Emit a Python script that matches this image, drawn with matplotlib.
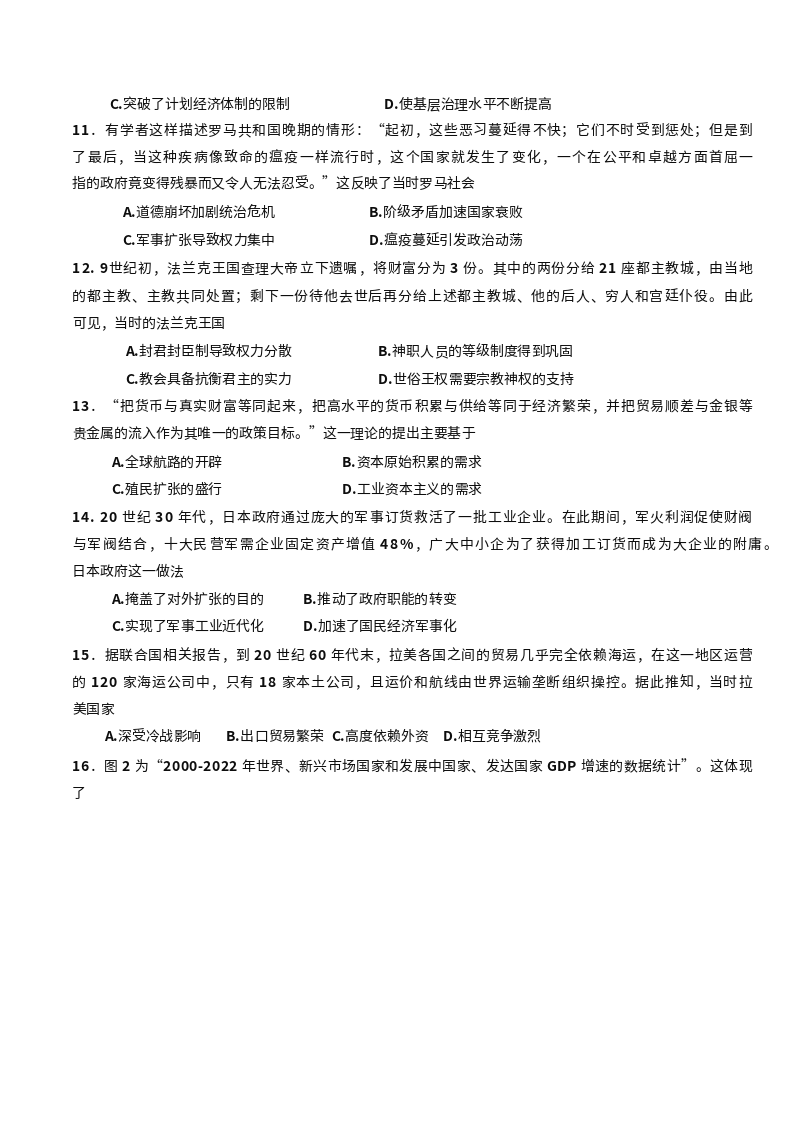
import matplotlib
matplotlib.use("Agg")
import matplotlib.pyplot as plt
from matplotlib.font_manager import FontProperties, findfont, get_font

plt.rcParams['font.family'] = ['Noto Sans CJK SC', 'DejaVu Sans']

W, H = 793, 1121

# ---- page content (text lines) ----
top_options = ["C.突破了计划经济体制的限制", "D.使基层治理水平不断提高"]

q11_lines = [
    "11．有学者这样描述罗马共和国晚期的情形：“起初，这些恶习蔓延得不快；它们不时受到惩处；但是到",
    "了最后，当这种疾病像致命的瘟疫一样流行时，这个国家就发生了变化，一个在公平和卓越方面首屈一",
    "指的政府竟变得残暴而又令人无法忍受。”这反映了当时罗马社会",
]
q11_options = ["A.道德崩坏加剧统治危机", "B.阶级矛盾加速国家衰败",
               "C.军事扩张导致权力集中", "D.瘟疫蔓延引发政治动荡"]

q12_lines = [
    "12. 9世纪初，法兰克王国查理大帝立下遗嘱，将财富分为 3 份。其中的两份分给 21 座都主教城，由当地",
    "的都主教、主教共同处置；剩下一份待他去世后再分给上述都主教城、他的后人、穷人和宫廷仆役。由此",
    "可见，当时的法兰克王国",
]
q12_options = ["A.封君封臣制导致权力分散", "B.神职人员的等级制度得到巩固",
               "C.教会具备抗衡君主的实力", "D.世俗王权需要宗教神权的支持"]

q13_lines = [
    "13．“把货币与真实财富等同起来，把高水平的货币积累与供给等同于经济繁荣，并把贸易顺差与金银等",
    "贵金属的流入作为其唯一的政策目标。”这一理论的提出主要基于",
]
q13_options = ["A.全球航路的开辟", "B.资本原始积累的需求",
               "C.殖民扩张的盛行", "D.工业资本主义的需求"]

q14_lines = [
    "14. 20 世纪 30 年代，日本政府通过庞大的军事订货救活了一批工业企业。在此期间，军火利润促使财阀",
    "与军阀结合，十大民营军需企业固定资产增值 48%，广大中小企为了获得加工订货而成为大企业的附庸。",
    "日本政府这一做法",
]
q14_options = ["A.掩盖了对外扩张的目的", "B.推动了政府职能的转变",
               "C.实现了军事工业近代化", "D.加速了国民经济军事化"]

q15_lines = [
    "15．据联合国相关报告，到 20 世纪 60 年代末，拉美各国之间的贸易几乎完全依赖海运，在这一地区运营",
    "的 120 家海运公司中，只有 18 家本土公司，且运价和航线由世界运输垄断组织操控。据此推知，当时拉",
    "美国家",
]
q15_options = ["A.深受冷战影响", "B.出口贸易繁荣", "C.高度依赖外资", "D.相互竞争激烈"]

q16_lines = [
    "16．图 2 为“2000-2022 年世界、新兴市场国家和发展中国家、发达国家 GDP 增速的数据统计”。这体现",
    "了",
]

# ---- layout ----
DPI = 100
fig = plt.figure(figsize=(W / DPI, H / DPI), dpi=DPI)
fig.patch.set_facecolor("white")
FS = 10.0
COLOR = "#0d0d0d"
LEFT = 72
RIGHT = 752
FAM = ['Noto Sans CJK SC', 'DejaVu Sans']
prop_r = FontProperties(family=FAM, size=FS)
prop_b = FontProperties(family=FAM, size=FS, weight='bold')
font_r = get_font(findfont(FontProperties(family='Noto Sans CJK SC')))
font_b = get_font(findfont(FontProperties(family='Noto Sans CJK SC', weight='bold')))
BOLD_CHARS = set("0123456789ABCDGP.%-")


def is_bold(ch):
    return ch in BOLD_CHARS


def advance(ch):
    f = font_b if is_bold(ch) else font_r
    f.set_size(FS, DPI)
    g = f.load_char(ord(ch))
    return g.linearHoriAdvance / 65536.0


def put(x, y, ch):
    fig.text(x / W, 1 - y / H, ch,
             fontproperties=prop_b if is_bold(ch) else prop_r,
             va="center", ha="left", color=COLOR)


def put_line(x, y, s, right=None):
    advs = [advance(ch) for ch in s]
    total = sum(advs)
    n = len(s)
    gap = 0.0
    if right is not None and n > 1:
        gap = (right - x - total) / (n - 1)
    cx = x
    for ch, a in zip(s, advs):
        if ch != " ":
            put(cx, y, ch)
        cx += a + gap


def paragraph(lines, ys, rights=None):
    for i, (s, y) in enumerate(zip(lines, ys)):
        if i == len(lines) - 1:
            put_line(LEFT, y, s)
        else:
            r = rights[i] if rights else RIGHT
            put_line(LEFT, y, s, r)


def opt_rows(opts, ys, xs):
    for i, s in enumerate(opts):
        row = i // 2 if len(xs) == 2 else 0
        col = i % 2 if len(xs) == 2 else i
        put_line(xs[col], ys[row], s)


opt_rows(top_options, [105], [109, 384])

paragraph(q11_lines, [131, 158, 184])
opt_rows(q11_options, [213, 241], [122, 369])

paragraph(q12_lines, [269, 297, 324])
opt_rows(q12_options, [352, 380], [125, 378])

paragraph(q13_lines, [407, 434])
opt_rows(q13_options, [463, 490], [111, 342])

paragraph(q14_lines, [518, 545, 572], rights=[752, 777])
opt_rows(q14_options, [600, 627], [111, 303])

paragraph(q15_lines, [656, 683, 710])
opt_rows(q15_options, [737], [104, 226, 331, 443])

paragraph(q16_lines, [767, 794])

fig.savefig("out.png", dpi=DPI, facecolor="white")
